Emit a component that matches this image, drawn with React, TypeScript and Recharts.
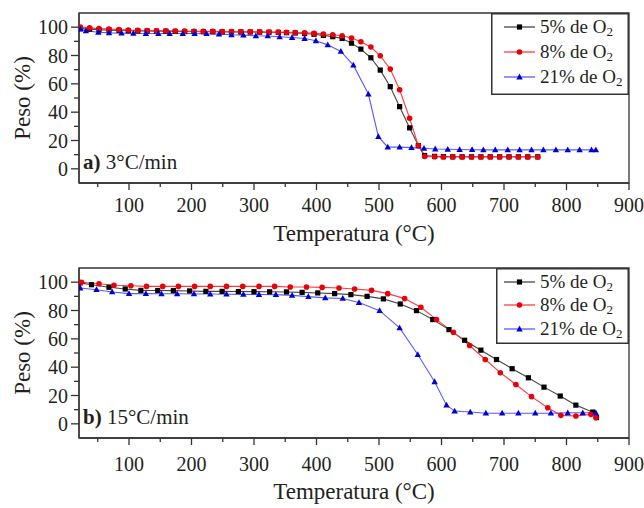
import React from 'react'
import { LineChart, Line, XAxis, YAxis, Legend, ReferenceArea } from 'recharts'

// a) 3 °C/min
const topTemp58 = [22, 37, 52, 68, 84, 99, 114, 129, 144, 159, 174, 189, 204, 219, 234, 249, 264, 279, 294, 309, 324, 339, 352, 366, 381, 396, 411, 426, 441, 456, 471, 487, 502, 518, 533, 549, 563, 573, 589, 603, 618, 633, 648, 663, 678, 693, 708, 723, 738, 754]
const topPeso5 = [99, 98.6, 98.2, 97.9, 97.7, 97.5, 97.4, 97.3, 97.2, 97.1, 97, 96.9, 96.9, 96.8, 96.8, 96.7, 96.7, 96.6, 96.6, 96.5, 96.4, 96.3, 96.1, 95.9, 95.5, 95, 94.2, 93.3, 92, 88.7, 84.5, 78.4, 69.7, 58, 43.9, 28.9, 16.4, 9.4, 8.8, 8.6, 8.5, 8.5, 8.5, 8.5, 8.5, 8.5, 8.5, 8.5, 8.5, 8.5]
const topPeso8 = [100, 99.5, 99, 98.6, 98.3, 98, 97.8, 97.6, 97.5, 97.4, 97.3, 97.2, 97.1, 97, 97, 96.9, 96.9, 96.8, 96.8, 96.7, 96.6, 96.5, 96.4, 96.2, 96, 95.6, 95.2, 94.7, 93.9, 92.3, 89.7, 86, 79.8, 70.4, 55.8, 35.7, 16.4, 8.7, 8.5, 8.4, 8.4, 8.4, 8.4, 8.4, 8.4, 8.4, 8.4, 8.4, 8.4, 8.4]
const topTemp21 = [22, 31, 51, 68, 88, 107, 127, 147, 165, 186, 205, 224, 244, 264, 283, 303, 322, 341, 361, 381, 399, 418, 439, 459, 483, 499, 514, 533, 552, 572, 590, 610, 629, 649, 667, 686, 706, 725, 744, 763, 783, 802, 821, 840, 847]
const topPeso21 = [98.6, 97.4, 96.4, 96, 95.8, 95.6, 95.5, 95.5, 95.5, 95.5, 95.5, 95.4, 95.1, 94.6, 94.4, 93.9, 93.8, 93.2, 92.7, 92, 90.4, 87.5, 82.9, 73.2, 52.8, 22.7, 15.3, 15.3, 15, 14.5, 14, 13.8, 13.6, 13.5, 13.4, 13.4, 13.4, 13.4, 13.4, 13.4, 13.4, 13.4, 13.4, 13.4, 13.4]

// b) 15 °C/min
const botTemp5 = [22, 40, 68, 94, 119, 146, 171, 197, 223, 249, 275, 300, 325, 352, 377, 402, 429, 455, 481, 507, 534, 560, 586, 612, 637, 663, 688, 713, 739, 764, 790, 815, 842, 848]
const botPeso5 = [99.5, 98.2, 96.4, 95.2, 94.2, 94.1, 94, 93.8, 93.5, 93.5, 93.4, 93.3, 93.2, 93.1, 92.8, 92.4, 91.9, 91.2, 90, 88.2, 84.6, 79.9, 73.6, 66.5, 59, 52, 45.4, 38.9, 32.5, 25.9, 19.6, 13.2, 8.3, 4.4]
const botTemp8 = [24, 52, 76, 103, 128, 154, 179, 205, 230, 256, 282, 308, 333, 358, 384, 409, 436, 461, 488, 514, 541, 567, 592, 619, 645, 670, 694, 719, 744, 770, 791, 815, 839, 847]
const botPeso8 = [99.9, 98.9, 97.8, 97.5, 97, 97, 97, 97, 97, 97, 97, 97, 97, 96.6, 96.6, 96.3, 95.9, 95.2, 94.2, 91.9, 88.4, 82.3, 73.6, 64.7, 55.3, 45.4, 36.1, 27.8, 19.2, 11.4, 6, 5.5, 6.7, 4.4]
const botTemp21 = [22, 48, 73, 100, 127, 152, 177, 204, 230, 256, 283, 308, 335, 361, 387, 414, 442, 468, 501, 533, 562, 589, 608, 621, 646, 671, 697, 723, 750, 775, 802, 826, 847]
const botPeso21 = [95.9, 94.7, 93.1, 91.9, 91.9, 91.8, 91.8, 91.7, 91.6, 91.5, 91.4, 91.3, 91.2, 90.7, 89.8, 88.9, 88.5, 85.6, 79.9, 67.7, 48.9, 29.7, 13.2, 9, 8.3, 7.5, 7.5, 7.5, 7.5, 7.5, 7.8, 7.8, 7.8]

const seriesNames = ['5%', '8%', '21%']
const xTicks = [50, 100, 150, 200, 250, 300, 350, 400, 450, 500, 550, 600, 650, 700, 750, 800, 850, 900]
const yTicks = [0, 10, 20, 30, 40, 50, 60, 70, 80, 90, 100]

const FONT = "'Liberation Serif', 'Times New Roman', serif"
const INK = '#231f20'
const AXIS = '#333'
const COLORS = [
  { line: '#444', mark: '#000' },
  { line: '#ff3b3b', mark: '#e8000b' },
  { line: '#5a5aff', mark: '#0000d0' },
]

const zip = (t: number[], p: number[]) => t.map((v, i) => ({ t: v, p: p[i] }))

function Marker({ kind, cx, cy }: { kind: number; cx: number; cy: number }) {
  const c = COLORS[kind].mark
  if (kind === 0) return <rect x={cx - 2.6} y={cy - 2.6} width={5.2} height={5.2} fill={c} />
  if (kind === 1) return <circle cx={cx} cy={cy} r={2.8} fill={c} />
  return <path d={`M${cx},${cy - 3.4} L${cx + 3.2},${cy + 2.4} L${cx - 3.2},${cy + 2.4} Z`} fill={c} />
}

const makeDot = (kind: number) => (props: any) => (
  <Marker key={`d-${kind}-${props.index}`} kind={kind} cx={props.cx} cy={props.cy} />
)

const makeXTick = (labelDy: number) => (props: any) => {
  const { x, y, payload } = props
  const major = payload.value % 100 === 0
  return (
    <g>
      <line x1={x} x2={x} y1={y} y2={y + (major ? 7 : 4)} stroke={AXIS} strokeWidth={1.3} />
      {major && (
        <text x={x} y={y + labelDy} textAnchor="middle" fontSize={20} fontFamily={FONT} fill={INK}>
          {payload.value}
        </text>
      )}
    </g>
  )
}

function YTick(props: any) {
  const { x, y, payload } = props
  const major = payload.value % 20 === 0
  return (
    <g>
      <line x1={x - (major ? 8 : 5)} x2={x} y1={y} y2={y} stroke={AXIS} strokeWidth={1.3} />
      {major && (
        <text x={x - 11} y={y + 7} textAnchor="end" fontSize={20} fontFamily={FONT} fill={INK}>
          {payload.value}
        </text>
      )}
    </g>
  )
}

function LegendBox({ width, height, rows }: { width: number; height: number; rows: number[] }) {
  return (
    <svg width={width} height={height} style={{ display: 'block' }}>
      <rect x={0.75} y={0.75} width={width - 1.5} height={height - 1.5} fill="#fff" stroke={AXIS} strokeWidth={1.5} />
      {seriesNames.map((name, i) => (
        <g key={name}>
          <line x1={width - 125} x2={width - 94} y1={rows[i]} y2={rows[i]} stroke={COLORS[i].line} strokeWidth={1.3} />
          <Marker kind={i} cx={width - 109.5} cy={rows[i]} />
          <text x={width - 89} y={rows[i] + 6} fontSize={19} fontFamily={FONT} fill={INK}>
            {name} de O<tspan fontSize={13} dy={3}>2</tspan>
          </text>
        </g>
      ))}
    </svg>
  )
}

interface PanelProps {
  series: { t: number; p: number }[][]
  tag: string
  rate: string
  xLabelDy: number
  titleDy: number
  height: number
  legend: { left: number; width: number; height: number; rows: number[] }
}

function Panel({ series, tag, rate, xLabelDy, titleDy, height, legend }: PanelProps) {
  const plotTop = 13
  const plotBottom = plotTop + 170
  return (
    <LineChart width={644} height={height} margin={{ top: plotTop, right: 15, bottom: 0, left: 0 }}>
      <XAxis
        type="number"
        dataKey="t"
        domain={[20, 900]}
        ticks={xTicks}
        interval={0}
        allowDataOverflow
        height={height - plotBottom}
        tickSize={0}
        tickMargin={0}
        tickLine={false}
        stroke={AXIS}
        strokeWidth={1.3}
        tick={makeXTick(xLabelDy)}
        label={{
          content: () => (
            <text x={354} y={plotBottom + titleDy} textAnchor="middle" fontSize={23} fontFamily={FONT} fill={INK}>
              Temperatura (°C)
            </text>
          ),
        }}
      />
      <YAxis
        type="number"
        domain={[-10, 110]}
        ticks={yTicks}
        interval={0}
        allowDataOverflow
        width={79}
        tickSize={0}
        tickMargin={0}
        tickLine={false}
        stroke={AXIS}
        strokeWidth={1.3}
        tick={YTick}
        label={{
          content: () => (
            <text
              x={30}
              y={(plotTop + plotBottom) / 2}
              transform={`rotate(-90 30 ${(plotTop + plotBottom) / 2})`}
              textAnchor="middle"
              fontSize={23}
              fontFamily={FONT}
              fill={INK}
            >
              Peso (%)
            </text>
          ),
        }}
      />
      <ReferenceArea x1={20} x2={900} y1={-10} y2={110} fill="none" stroke={AXIS} strokeWidth={1.3} ifOverflow="visible" />
      {series.map((d, i) => (
        <Line
          key={seriesNames[i]}
          name={seriesNames[i]}
          data={d}
          dataKey="p"
          type="linear"
          stroke={COLORS[i].line}
          strokeWidth={1.1}
          dot={makeDot(i)}
          activeDot={false}
          isAnimationActive={false}
        />
      ))}
      <text x={83} y={plotBottom - 14} fontSize={21} fontFamily={FONT} fill={INK}>
        <tspan fontWeight="bold">{tag}</tspan> {rate}
      </text>
      <Legend
        layout="horizontal"
        verticalAlign="middle"
        align="center"
        content={() => <LegendBox width={legend.width} height={legend.height} rows={legend.rows} />}
        wrapperStyle={{ position: 'absolute', left: legend.left, top: plotTop, width: legend.width, height: legend.height }}
      />
    </LineChart>
  )
}

export default function App() {
  return (
    <div style={{ position: 'absolute', left: 0, top: 0, width: 644, height: 508, background: '#fff' }}>
      <div style={{ position: 'absolute', left: 0, top: 0 }}>
        <Panel
          series={[zip(topTemp58, topPeso5), zip(topTemp58, topPeso8), zip(topTemp21, topPeso21)]}
          tag="a)"
          rate="3°C/min"
          xLabelDy={29}
          titleDy={58}
          height={250}
          legend={{ left: 491, width: 138, height: 82, rows: [14, 39, 64] }}
        />
      </div>
      <div style={{ position: 'absolute', left: 0, top: 255 }}>
        <Panel
          series={[zip(botTemp5, botPeso5), zip(botTemp8, botPeso8), zip(botTemp21, botPeso21)]}
          tag="b)"
          rate="15°C/min"
          xLabelDy={33}
          titleDy={61}
          height={253}
          legend={{ left: 496, width: 133, height: 76, rows: [14, 37, 61] }}
        />
      </div>
    </div>
  )
}
